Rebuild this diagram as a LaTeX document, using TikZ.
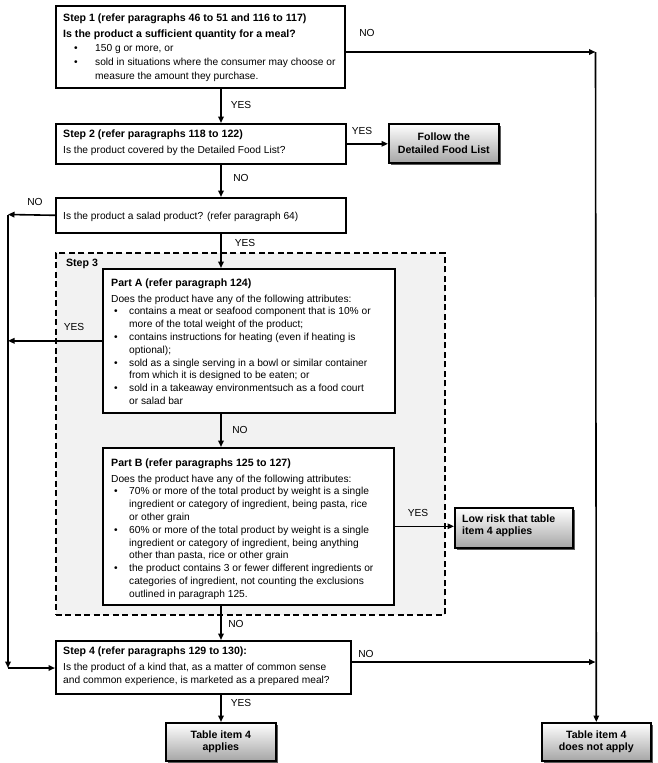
\documentclass[tikz,border=0pt]{standalone}
\usepackage{fontspec}
\setmainfont{Liberation Sans}
\usetikzlibrary{arrows.meta,shadows,calc}
\newcommand\fs{\fontsize{10.2}{12.8}\selectfont}
\newcommand\bfs{\fontsize{10.6}{12.8}\selectfont\bfseries}
\newcommand\strt{\rule{0pt}{8pt}}
\newcommand\hd[1]{{\bfs #1}}
\newcommand\bS[1]{\hspace*{11pt}\makebox[21pt][l]{\textbullet}#1}
\newcommand\cS[1]{\hspace*{32pt}#1}
\newcommand\bA[1]{\hspace*{3pt}\makebox[15pt][l]{\textbullet}#1}
\newcommand\cA[1]{\hspace*{18pt}#1}
\tikzset{
  box/.style={draw=black, line width=1.6pt, fill=white, inner sep=0pt, anchor=north west},
  endbox/.style={draw=black, line width=1.6pt, top color=white, bottom color=black!35,
     drop shadow={shadow xshift=2.5pt, shadow yshift=-2.5pt, fill=black!65, opacity=1},
     inner sep=0pt, anchor=north west},
  txt/.style={anchor=north west, inner sep=0pt, align=left, font=\fs},
  ctxt/.style={inner sep=0pt, align=center, font=\bfs},
  conn/.style={line width=1.6pt, -{Triangle[length=6.5pt,width=5.5pt]}},
  lbl/.style={inner sep=0pt, font=\fs},
}
\begin{document}
\begin{tikzpicture}[x=1pt,y=-1pt]
\useasboundingbox[fill=white] (0,0) rectangle (657,763);
% step 3 region
\node[box, dash pattern=on 6pt off 3.5pt, fill=black!5, minimum width=389pt, minimum height=362pt] (s3) at (55,252) {};
\node[inner sep=0pt, font=\bfs] (s3l) at (82,264) {Step 3};
% boxes
\node[box, minimum width=289pt, minimum height=82pt] (s1) at (55,5) {};
\node[box, minimum width=290pt, minimum height=40pt] (s2) at (55,123) {};
\node[endbox, minimum width=110pt, minimum height=39pt] (fol) at (388,123) {};
\node[box, minimum width=290pt, minimum height=35pt] (sal) at (55,197) {};
\node[box, minimum width=292pt, minimum height=144pt] (pA) at (102,268) {};
\node[box, minimum width=291pt, minimum height=157pt] (pB) at (102,447) {};
\node[endbox, minimum width=118pt, minimum height=40pt] (low) at (454,507) {};
\node[box, minimum width=295pt, minimum height=53pt] (s4) at (55,640) {};
\node[endbox, minimum width=110pt, minimum height=38pt] (t4a) at (165,722) {};
\node[endbox, minimum width=109pt, minimum height=38pt] (t4n) at (541,722) {};
% texts
\node[txt] (s1t) at (63,12.8) {\strt\hd{Step 1 (refer paragraphs 46 to 51 and 116 to 117)}\\[3.2pt]
\hd{Is the product a sufficient quantity for a meal?}\\[1.5pt]
\bS{150 g or more, or}\\[1.2pt]
\bS{sold in situations where the consumer may choose or}\\[1.2pt]
\cS{measure the amount they purchase.}};
\node[txt] (s2t) at (63,128.8) {\strt\hd{Step 2 (refer paragraphs 118 to 122)}\\[3.2pt]
Is the product covered by the Detailed Food List?};
\node[txt] (salt) at (63,210.8) {\strt Is the product a salad product? (refer paragraph 64)};
\node[txt] (pAt) at (111,277.8) {\strt\hd{Part A (refer paragraph 124)}\\[3.2pt]
Does the product have any of the following attributes:\\
\bA{contains a meat or seafood component that is 10\% or}\\
\cA{more of the total weight of the product;}\\
\bA{contains instructions for heating (even if heating is}\\
\cA{optional);}\\
\bA{sold as a single serving in a bowl or similar container}\\
\cA{from which it is designed to be eaten; or}\\
\bA{sold in a takeaway environmentsuch as a food court}\\
\cA{or salad bar}};
\node[txt] (pBt) at (111,457.8) {\strt\hd{Part B (refer paragraphs 125 to 127)}\\[3.2pt]
Does the product have any of the following attributes:\\
\bA{70\% or more of the total product by weight is a single}\\
\cA{ingredient or category of ingredient, being pasta, rice}\\
\cA{or other grain}\\
\bA{60\% or more of the total product by weight is a single}\\
\cA{ingredient or category of ingredient, being anything}\\
\cA{other than pasta, rice or other grain}\\
\bA{the product contains 3 or fewer different ingredients or}\\
\cA{categories of ingredient, not counting the exclusions}\\
\cA{outlined in paragraph 125.}};
\node[txt] (s4t) at (63,645.8) {\strt\hd{Step 4 (refer paragraphs 129 to 130):}\\[3.2pt]
Is the product of a kind that, as a matter of common sense\\[1pt]
and common experience, is marketed as a prepared meal?};
\node[ctxt] (folt) at (fol.center) {Follow the\\Detailed Food List};
\node[txt, font=\bfs] (lowt) at (462,513.8) {\strt Low risk that table\\item 4 applies};
\node[ctxt] (t4at) at (t4a.center) {Table item 4\\applies};
\node[ctxt] (t4nt) at (t4n.center) {Table item 4\\does not apply};
% connector coordinates
\coordinate (ax) at (221,0);
\coordinate (L1) at (8,214.5);
\coordinate (L2) at (8,668);
\coordinate (R1) at (595.5,52);
\coordinate (R2) at (595.5,662);
% connectors
\draw[conn] (s1.south -| ax) -- (s2.north -| ax);
\draw[conn] (s2.east) -- (s2.east -| fol.west);
\draw[conn] (s2.south -| ax) -- (sal.north -| ax);
\draw[conn] (sal.west) -- (L1);
\draw[conn] (L1) -- (L2);
\draw[conn] (L2) -- (L2 -| s4.west);
\draw[conn] (sal.south -| ax) -- (pA.north -| ax);
\draw[conn] (pA.west) -- (pA.west -| L1);
\draw[conn] (pA.south -| ax) -- (pB.north -| ax);
\draw[conn] (pB.east) -- (pB.east -| low.west);
\draw[conn] (pB.south -| ax) -- (s4.north -| ax);
\draw[conn] (s4.south -| ax) -- (t4a.north -| ax);
\draw[conn] (s1.east |- R1) -- (R1);
\draw[conn] (R1) -- (t4n.north);
\draw[conn] (s4.east |- R2) -- (R2);
% labels
\node[lbl] (y1) at (241,105) {YES};
\node[lbl] (n1) at (367,33) {NO};
\node[lbl] (y2) at (362,131) {YES};
\node[lbl] (n2) at (241,178) {NO};
\node[lbl] (n3) at (35,202) {NO};
\node[lbl] (y3) at (245,243) {YES};
\node[lbl] (y4) at (74,327) {YES};
\node[lbl] (n4) at (240,430) {NO};
\node[lbl] (y5) at (418,513) {YES};
\node[lbl] (n5) at (236,624) {NO};
\node[lbl] (n6) at (366,654) {NO};
\node[lbl] (y6) at (241,703) {YES};
\end{tikzpicture}
\end{document}
